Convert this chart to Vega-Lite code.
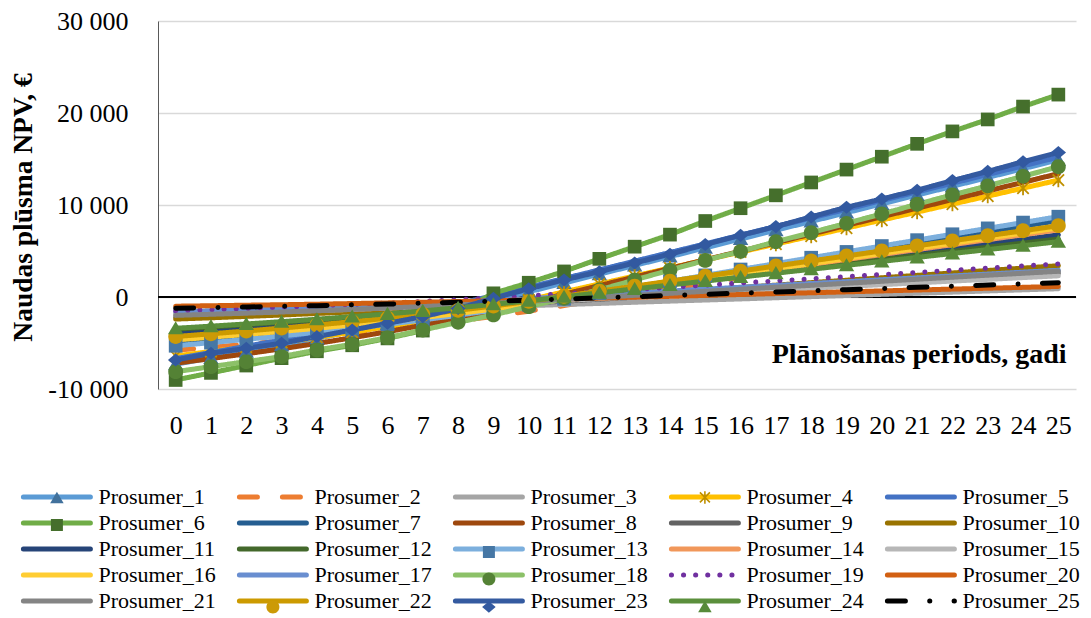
{
  "$schema": "https://vega.github.io/schema/vega-lite/v6.json",
  "width": 918,
  "height": 368,
  "autosize": {"type": "none"},
  "padding": {"left": 158, "top": 21, "right": 15, "bottom": 229},
  "background": "#ffffff",
  "config": {
    "view": {"stroke": null},
    "font": "Liberation Serif",
    "locale": {
      "number": {"decimal": ",", "thousands": " ", "grouping": [3], "currency": ["", " €"], "minus": "-"}
    },
    "axis": {
      "labelFont": "Liberation Serif",
      "labelFontSize": 26,
      "labelColor": "#000000",
      "titleFont": "Liberation Serif",
      "titleFontSize": 28,
      "titleFontWeight": "bold",
      "titleColor": "#000000",
      "ticks": false,
      "tickSize": 0,
      "labelOverlap": false
    },
    "axisX": {"labelOverlap": false, "labelFlush": false},
    "legend": {
      "orient": "none",
      "legendX": -137.6,
      "legendY": 465,
      "direction": "horizontal",
      "columns": 5,
      "padding": 0,
      "columnPadding": 13,
      "rowPadding": 4,
      "gridAlign": "each",
      "labelFont": "Liberation Serif",
      "labelFontSize": 22,
      "labelColor": "#000000",
      "labelLimit": 300,
      "labelOffset": 30.5,
      "symbolSize": 100,
      "symbolStrokeWidth": 5,
      "symbolOffset": 25.5
    }
  },
  "data": {
    "values": [
      {"series":"Prosumer_1","year":0,"npv":-7300},{"series":"Prosumer_1","year":1,"npv":-6630},{"series":"Prosumer_1","year":2,"npv":-5940},{"series":"Prosumer_1","year":3,"npv":-5240},{"series":"Prosumer_1","year":4,"npv":-4500},{"series":"Prosumer_1","year":5,"npv":-3740},{"series":"Prosumer_1","year":6,"npv":-2940},{"series":"Prosumer_1","year":7,"npv":-2120},{"series":"Prosumer_1","year":8,"npv":-1260},{"series":"Prosumer_1","year":9,"npv":-360},{"series":"Prosumer_1","year":10,"npv":570},{"series":"Prosumer_1","year":11,"npv":1520},{"series":"Prosumer_1","year":12,"npv":2480},{"series":"Prosumer_1","year":13,"npv":3430},{"series":"Prosumer_1","year":14,"npv":4390},{"series":"Prosumer_1","year":15,"npv":5340},{"series":"Prosumer_1","year":16,"npv":6300},{"series":"Prosumer_1","year":17,"npv":7260},{"series":"Prosumer_1","year":18,"npv":8210},{"series":"Prosumer_1","year":19,"npv":9170},{"series":"Prosumer_1","year":20,"npv":10120},{"series":"Prosumer_1","year":21,"npv":11080},{"series":"Prosumer_1","year":22,"npv":12030},{"series":"Prosumer_1","year":23,"npv":12990},{"series":"Prosumer_1","year":24,"npv":13950},{"series":"Prosumer_1","year":25,"npv":14900},
      {"series":"Prosumer_2","year":0,"npv":-5800},{"series":"Prosumer_2","year":1,"npv":-5470},{"series":"Prosumer_2","year":2,"npv":-5130},{"series":"Prosumer_2","year":3,"npv":-4780},{"series":"Prosumer_2","year":4,"npv":-4400},{"series":"Prosumer_2","year":5,"npv":-4000},{"series":"Prosumer_2","year":6,"npv":-3570},{"series":"Prosumer_2","year":7,"npv":-3110},{"series":"Prosumer_2","year":8,"npv":-2630},{"series":"Prosumer_2","year":9,"npv":-2100},{"series":"Prosumer_2","year":10,"npv":-1540},{"series":"Prosumer_2","year":11,"npv":-930},{"series":"Prosumer_2","year":12,"npv":-320},{"series":"Prosumer_2","year":13,"npv":290},{"series":"Prosumer_2","year":14,"npv":900},{"series":"Prosumer_2","year":15,"npv":1510},{"series":"Prosumer_2","year":16,"npv":2120},{"series":"Prosumer_2","year":17,"npv":2730},{"series":"Prosumer_2","year":18,"npv":3340},{"series":"Prosumer_2","year":19,"npv":3950},{"series":"Prosumer_2","year":20,"npv":4560},{"series":"Prosumer_2","year":21,"npv":5170},{"series":"Prosumer_2","year":22,"npv":5770},{"series":"Prosumer_2","year":23,"npv":6380},{"series":"Prosumer_2","year":24,"npv":6990},{"series":"Prosumer_2","year":25,"npv":7600},
      {"series":"Prosumer_3","year":0,"npv":-1800},{"series":"Prosumer_3","year":1,"npv":-1730},{"series":"Prosumer_3","year":2,"npv":-1670},{"series":"Prosumer_3","year":3,"npv":-1590},{"series":"Prosumer_3","year":4,"npv":-1520},{"series":"Prosumer_3","year":5,"npv":-1440},{"series":"Prosumer_3","year":6,"npv":-1350},{"series":"Prosumer_3","year":7,"npv":-1260},{"series":"Prosumer_3","year":8,"npv":-1160},{"series":"Prosumer_3","year":9,"npv":-1060},{"series":"Prosumer_3","year":10,"npv":-940},{"series":"Prosumer_3","year":11,"npv":-820},{"series":"Prosumer_3","year":12,"npv":-700},{"series":"Prosumer_3","year":13,"npv":-570},{"series":"Prosumer_3","year":14,"npv":-450},{"series":"Prosumer_3","year":15,"npv":-330},{"series":"Prosumer_3","year":16,"npv":-210},{"series":"Prosumer_3","year":17,"npv":-80},{"series":"Prosumer_3","year":18,"npv":40},{"series":"Prosumer_3","year":19,"npv":160},{"series":"Prosumer_3","year":20,"npv":290},{"series":"Prosumer_3","year":21,"npv":410},{"series":"Prosumer_3","year":22,"npv":530},{"series":"Prosumer_3","year":23,"npv":660},{"series":"Prosumer_3","year":24,"npv":780},{"series":"Prosumer_3","year":25,"npv":900},
      {"series":"Prosumer_4","year":0,"npv":-6400},{"series":"Prosumer_4","year":1,"npv":-5930},{"series":"Prosumer_4","year":2,"npv":-5440},{"series":"Prosumer_4","year":3,"npv":-4940},{"series":"Prosumer_4","year":4,"npv":-4400},{"series":"Prosumer_4","year":5,"npv":-3830},{"series":"Prosumer_4","year":6,"npv":-3220},{"series":"Prosumer_4","year":7,"npv":-2570},{"series":"Prosumer_4","year":8,"npv":-1880},{"series":"Prosumer_4","year":9,"npv":-1130},{"series":"Prosumer_4","year":10,"npv":-320},{"series":"Prosumer_4","year":11,"npv":550},{"series":"Prosumer_4","year":12,"npv":1410},{"series":"Prosumer_4","year":13,"npv":2280},{"series":"Prosumer_4","year":14,"npv":3150},{"series":"Prosumer_4","year":15,"npv":4020},{"series":"Prosumer_4","year":16,"npv":4890},{"series":"Prosumer_4","year":17,"npv":5750},{"series":"Prosumer_4","year":18,"npv":6620},{"series":"Prosumer_4","year":19,"npv":7490},{"series":"Prosumer_4","year":20,"npv":8360},{"series":"Prosumer_4","year":21,"npv":9230},{"series":"Prosumer_4","year":22,"npv":10100},{"series":"Prosumer_4","year":23,"npv":10960},{"series":"Prosumer_4","year":24,"npv":11830},{"series":"Prosumer_4","year":25,"npv":12700},
      {"series":"Prosumer_5","year":0,"npv":-6700},{"series":"Prosumer_5","year":1,"npv":-6040},{"series":"Prosumer_5","year":2,"npv":-5360},{"series":"Prosumer_5","year":3,"npv":-4660},{"series":"Prosumer_5","year":4,"npv":-3940},{"series":"Prosumer_5","year":5,"npv":-3180},{"series":"Prosumer_5","year":6,"npv":-2400},{"series":"Prosumer_5","year":7,"npv":-1590},{"series":"Prosumer_5","year":8,"npv":-740},{"series":"Prosumer_5","year":9,"npv":140},{"series":"Prosumer_5","year":10,"npv":1060},{"series":"Prosumer_5","year":11,"npv":2000},{"series":"Prosumer_5","year":12,"npv":2940},{"series":"Prosumer_5","year":13,"npv":3890},{"series":"Prosumer_5","year":14,"npv":4830},{"series":"Prosumer_5","year":15,"npv":5770},{"series":"Prosumer_5","year":16,"npv":6720},{"series":"Prosumer_5","year":17,"npv":7660},{"series":"Prosumer_5","year":18,"npv":8600},{"series":"Prosumer_5","year":19,"npv":9540},{"series":"Prosumer_5","year":20,"npv":10490},{"series":"Prosumer_5","year":21,"npv":11430},{"series":"Prosumer_5","year":22,"npv":12370},{"series":"Prosumer_5","year":23,"npv":13320},{"series":"Prosumer_5","year":24,"npv":14260},{"series":"Prosumer_5","year":25,"npv":15200},
      {"series":"Prosumer_6","year":0,"npv":-9020},{"series":"Prosumer_6","year":1,"npv":-8250},{"series":"Prosumer_6","year":2,"npv":-7450},{"series":"Prosumer_6","year":3,"npv":-6650},{"series":"Prosumer_6","year":4,"npv":-5900},{"series":"Prosumer_6","year":5,"npv":-5250},{"series":"Prosumer_6","year":6,"npv":-4500},{"series":"Prosumer_6","year":7,"npv":-3650},{"series":"Prosumer_6","year":8,"npv":-1650},{"series":"Prosumer_6","year":9,"npv":400},{"series":"Prosumer_6","year":10,"npv":1550},{"series":"Prosumer_6","year":11,"npv":2780},{"series":"Prosumer_6","year":12,"npv":4150},{"series":"Prosumer_6","year":13,"npv":5470},{"series":"Prosumer_6","year":14,"npv":6780},{"series":"Prosumer_6","year":15,"npv":8260},{"series":"Prosumer_6","year":16,"npv":9650},{"series":"Prosumer_6","year":17,"npv":11050},{"series":"Prosumer_6","year":18,"npv":12450},{"series":"Prosumer_6","year":19,"npv":13850},{"series":"Prosumer_6","year":20,"npv":15250},{"series":"Prosumer_6","year":21,"npv":16650},{"series":"Prosumer_6","year":22,"npv":18000},{"series":"Prosumer_6","year":23,"npv":19300},{"series":"Prosumer_6","year":24,"npv":20700},{"series":"Prosumer_6","year":25,"npv":22000},
      {"series":"Prosumer_7","year":0,"npv":-5000},{"series":"Prosumer_7","year":1,"npv":-4670},{"series":"Prosumer_7","year":2,"npv":-4340},{"series":"Prosumer_7","year":3,"npv":-3980},{"series":"Prosumer_7","year":4,"npv":-3610},{"series":"Prosumer_7","year":5,"npv":-3210},{"series":"Prosumer_7","year":6,"npv":-2790},{"series":"Prosumer_7","year":7,"npv":-2330},{"series":"Prosumer_7","year":8,"npv":-1850},{"series":"Prosumer_7","year":9,"npv":-1330},{"series":"Prosumer_7","year":10,"npv":-770},{"series":"Prosumer_7","year":11,"npv":-160},{"series":"Prosumer_7","year":12,"npv":440},{"series":"Prosumer_7","year":13,"npv":1050},{"series":"Prosumer_7","year":14,"npv":1650},{"series":"Prosumer_7","year":15,"npv":2260},{"series":"Prosumer_7","year":16,"npv":2860},{"series":"Prosumer_7","year":17,"npv":3470},{"series":"Prosumer_7","year":18,"npv":4070},{"series":"Prosumer_7","year":19,"npv":4670},{"series":"Prosumer_7","year":20,"npv":5280},{"series":"Prosumer_7","year":21,"npv":5880},{"series":"Prosumer_7","year":22,"npv":6490},{"series":"Prosumer_7","year":23,"npv":7090},{"series":"Prosumer_7","year":24,"npv":7700},{"series":"Prosumer_7","year":25,"npv":8300},
      {"series":"Prosumer_8","year":0,"npv":-7200},{"series":"Prosumer_8","year":1,"npv":-6690},{"series":"Prosumer_8","year":2,"npv":-6170},{"series":"Prosumer_8","year":3,"npv":-5630},{"series":"Prosumer_8","year":4,"npv":-5050},{"series":"Prosumer_8","year":5,"npv":-4430},{"series":"Prosumer_8","year":6,"npv":-3770},{"series":"Prosumer_8","year":7,"npv":-3070},{"series":"Prosumer_8","year":8,"npv":-2320},{"series":"Prosumer_8","year":9,"npv":-1520},{"series":"Prosumer_8","year":10,"npv":-640},{"series":"Prosumer_8","year":11,"npv":290},{"series":"Prosumer_8","year":12,"npv":1230},{"series":"Prosumer_8","year":13,"npv":2160},{"series":"Prosumer_8","year":14,"npv":3100},{"series":"Prosumer_8","year":15,"npv":4040},{"series":"Prosumer_8","year":16,"npv":4970},{"series":"Prosumer_8","year":17,"npv":5910},{"series":"Prosumer_8","year":18,"npv":6840},{"series":"Prosumer_8","year":19,"npv":7780},{"series":"Prosumer_8","year":20,"npv":8720},{"series":"Prosumer_8","year":21,"npv":9650},{"series":"Prosumer_8","year":22,"npv":10590},{"series":"Prosumer_8","year":23,"npv":11530},{"series":"Prosumer_8","year":24,"npv":12460},{"series":"Prosumer_8","year":25,"npv":13400},
      {"series":"Prosumer_9","year":0,"npv":-2200},{"series":"Prosumer_9","year":1,"npv":-2080},{"series":"Prosumer_9","year":2,"npv":-1960},{"series":"Prosumer_9","year":3,"npv":-1830},{"series":"Prosumer_9","year":4,"npv":-1700},{"series":"Prosumer_9","year":5,"npv":-1550},{"series":"Prosumer_9","year":6,"npv":-1400},{"series":"Prosumer_9","year":7,"npv":-1240},{"series":"Prosumer_9","year":8,"npv":-1060},{"series":"Prosumer_9","year":9,"npv":-880},{"series":"Prosumer_9","year":10,"npv":-670},{"series":"Prosumer_9","year":11,"npv":-450},{"series":"Prosumer_9","year":12,"npv":-240},{"series":"Prosumer_9","year":13,"npv":-20},{"series":"Prosumer_9","year":14,"npv":200},{"series":"Prosumer_9","year":15,"npv":420},{"series":"Prosumer_9","year":16,"npv":640},{"series":"Prosumer_9","year":17,"npv":860},{"series":"Prosumer_9","year":18,"npv":1070},{"series":"Prosumer_9","year":19,"npv":1290},{"series":"Prosumer_9","year":20,"npv":1510},{"series":"Prosumer_9","year":21,"npv":1730},{"series":"Prosumer_9","year":22,"npv":1950},{"series":"Prosumer_9","year":23,"npv":2170},{"series":"Prosumer_9","year":24,"npv":2380},{"series":"Prosumer_9","year":25,"npv":2600},
      {"series":"Prosumer_10","year":0,"npv":-2400},{"series":"Prosumer_10","year":1,"npv":-2260},{"series":"Prosumer_10","year":2,"npv":-2110},{"series":"Prosumer_10","year":3,"npv":-1960},{"series":"Prosumer_10","year":4,"npv":-1790},{"series":"Prosumer_10","year":5,"npv":-1620},{"series":"Prosumer_10","year":6,"npv":-1440},{"series":"Prosumer_10","year":7,"npv":-1240},{"series":"Prosumer_10","year":8,"npv":-1030},{"series":"Prosumer_10","year":9,"npv":-800},{"series":"Prosumer_10","year":10,"npv":-560},{"series":"Prosumer_10","year":11,"npv":-290},{"series":"Prosumer_10","year":12,"npv":-30},{"series":"Prosumer_10","year":13,"npv":240},{"series":"Prosumer_10","year":14,"npv":500},{"series":"Prosumer_10","year":15,"npv":770},{"series":"Prosumer_10","year":16,"npv":1030},{"series":"Prosumer_10","year":17,"npv":1290},{"series":"Prosumer_10","year":18,"npv":1560},{"series":"Prosumer_10","year":19,"npv":1820},{"series":"Prosumer_10","year":20,"npv":2090},{"series":"Prosumer_10","year":21,"npv":2350},{"series":"Prosumer_10","year":22,"npv":2610},{"series":"Prosumer_10","year":23,"npv":2880},{"series":"Prosumer_10","year":24,"npv":3140},{"series":"Prosumer_10","year":25,"npv":3400},
      {"series":"Prosumer_11","year":0,"npv":-3950},{"series":"Prosumer_11","year":1,"npv":-3690},{"series":"Prosumer_11","year":2,"npv":-3420},{"series":"Prosumer_11","year":3,"npv":-3130},{"series":"Prosumer_11","year":4,"npv":-2830},{"series":"Prosumer_11","year":5,"npv":-2510},{"series":"Prosumer_11","year":6,"npv":-2170},{"series":"Prosumer_11","year":7,"npv":-1810},{"series":"Prosumer_11","year":8,"npv":-1420},{"series":"Prosumer_11","year":9,"npv":-1000},{"series":"Prosumer_11","year":10,"npv":-550},{"series":"Prosumer_11","year":11,"npv":-60},{"series":"Prosumer_11","year":12,"npv":430},{"series":"Prosumer_11","year":13,"npv":910},{"series":"Prosumer_11","year":14,"npv":1400},{"series":"Prosumer_11","year":15,"npv":1880},{"series":"Prosumer_11","year":16,"npv":2370},{"series":"Prosumer_11","year":17,"npv":2860},{"series":"Prosumer_11","year":18,"npv":3340},{"series":"Prosumer_11","year":19,"npv":3830},{"series":"Prosumer_11","year":20,"npv":4320},{"series":"Prosumer_11","year":21,"npv":4800},{"series":"Prosumer_11","year":22,"npv":5290},{"series":"Prosumer_11","year":23,"npv":5780},{"series":"Prosumer_11","year":24,"npv":6260},{"series":"Prosumer_11","year":25,"npv":6750},
      {"series":"Prosumer_12","year":0,"npv":-3500},{"series":"Prosumer_12","year":1,"npv":-3260},{"series":"Prosumer_12","year":2,"npv":-3010},{"series":"Prosumer_12","year":3,"npv":-2750},{"series":"Prosumer_12","year":4,"npv":-2480},{"series":"Prosumer_12","year":5,"npv":-2180},{"series":"Prosumer_12","year":6,"npv":-1870},{"series":"Prosumer_12","year":7,"npv":-1540},{"series":"Prosumer_12","year":8,"npv":-1180},{"series":"Prosumer_12","year":9,"npv":-800},{"series":"Prosumer_12","year":10,"npv":-380},{"series":"Prosumer_12","year":11,"npv":60},{"series":"Prosumer_12","year":12,"npv":510},{"series":"Prosumer_12","year":13,"npv":950},{"series":"Prosumer_12","year":14,"npv":1400},{"series":"Prosumer_12","year":15,"npv":1840},{"series":"Prosumer_12","year":16,"npv":2290},{"series":"Prosumer_12","year":17,"npv":2740},{"series":"Prosumer_12","year":18,"npv":3180},{"series":"Prosumer_12","year":19,"npv":3630},{"series":"Prosumer_12","year":20,"npv":4070},{"series":"Prosumer_12","year":21,"npv":4520},{"series":"Prosumer_12","year":22,"npv":4960},{"series":"Prosumer_12","year":23,"npv":5410},{"series":"Prosumer_12","year":24,"npv":5860},{"series":"Prosumer_12","year":25,"npv":6300},
      {"series":"Prosumer_13","year":0,"npv":-5300},{"series":"Prosumer_13","year":1,"npv":-4960},{"series":"Prosumer_13","year":2,"npv":-4600},{"series":"Prosumer_13","year":3,"npv":-4230},{"series":"Prosumer_13","year":4,"npv":-3830},{"series":"Prosumer_13","year":5,"npv":-3410},{"series":"Prosumer_13","year":6,"npv":-2970},{"series":"Prosumer_13","year":7,"npv":-2490},{"series":"Prosumer_13","year":8,"npv":-1980},{"series":"Prosumer_13","year":9,"npv":-1430},{"series":"Prosumer_13","year":10,"npv":-840},{"series":"Prosumer_13","year":11,"npv":-200},{"series":"Prosumer_13","year":12,"npv":440},{"series":"Prosumer_13","year":13,"npv":1080},{"series":"Prosumer_13","year":14,"npv":1710},{"series":"Prosumer_13","year":15,"npv":2350},{"series":"Prosumer_13","year":16,"npv":2990},{"series":"Prosumer_13","year":17,"npv":3630},{"series":"Prosumer_13","year":18,"npv":4270},{"series":"Prosumer_13","year":19,"npv":4900},{"series":"Prosumer_13","year":20,"npv":5540},{"series":"Prosumer_13","year":21,"npv":6180},{"series":"Prosumer_13","year":22,"npv":6820},{"series":"Prosumer_13","year":23,"npv":7460},{"series":"Prosumer_13","year":24,"npv":8090},{"series":"Prosumer_13","year":25,"npv":8730},
      {"series":"Prosumer_14","year":0,"npv":-4500},{"series":"Prosumer_14","year":1,"npv":-4210},{"series":"Prosumer_14","year":2,"npv":-3910},{"series":"Prosumer_14","year":3,"npv":-3600},{"series":"Prosumer_14","year":4,"npv":-3270},{"series":"Prosumer_14","year":5,"npv":-2910},{"series":"Prosumer_14","year":6,"npv":-2540},{"series":"Prosumer_14","year":7,"npv":-2130},{"series":"Prosumer_14","year":8,"npv":-1710},{"series":"Prosumer_14","year":9,"npv":-1240},{"series":"Prosumer_14","year":10,"npv":-750},{"series":"Prosumer_14","year":11,"npv":-210},{"series":"Prosumer_14","year":12,"npv":330},{"series":"Prosumer_14","year":13,"npv":860},{"series":"Prosumer_14","year":14,"npv":1400},{"series":"Prosumer_14","year":15,"npv":1940},{"series":"Prosumer_14","year":16,"npv":2470},{"series":"Prosumer_14","year":17,"npv":3010},{"series":"Prosumer_14","year":18,"npv":3540},{"series":"Prosumer_14","year":19,"npv":4080},{"series":"Prosumer_14","year":20,"npv":4620},{"series":"Prosumer_14","year":21,"npv":5150},{"series":"Prosumer_14","year":22,"npv":5690},{"series":"Prosumer_14","year":23,"npv":6230},{"series":"Prosumer_14","year":24,"npv":6760},{"series":"Prosumer_14","year":25,"npv":7300},
      {"series":"Prosumer_15","year":0,"npv":-1900},{"series":"Prosumer_15","year":1,"npv":-1800},{"series":"Prosumer_15","year":2,"npv":-1690},{"series":"Prosumer_15","year":3,"npv":-1580},{"series":"Prosumer_15","year":4,"npv":-1460},{"series":"Prosumer_15","year":5,"npv":-1340},{"series":"Prosumer_15","year":6,"npv":-1200},{"series":"Prosumer_15","year":7,"npv":-1060},{"series":"Prosumer_15","year":8,"npv":-900},{"series":"Prosumer_15","year":9,"npv":-740},{"series":"Prosumer_15","year":10,"npv":-560},{"series":"Prosumer_15","year":11,"npv":-370},{"series":"Prosumer_15","year":12,"npv":-180},{"series":"Prosumer_15","year":13,"npv":10},{"series":"Prosumer_15","year":14,"npv":200},{"series":"Prosumer_15","year":15,"npv":390},{"series":"Prosumer_15","year":16,"npv":580},{"series":"Prosumer_15","year":17,"npv":770},{"series":"Prosumer_15","year":18,"npv":960},{"series":"Prosumer_15","year":19,"npv":1150},{"series":"Prosumer_15","year":20,"npv":1340},{"series":"Prosumer_15","year":21,"npv":1540},{"series":"Prosumer_15","year":22,"npv":1730},{"series":"Prosumer_15","year":23,"npv":1920},{"series":"Prosumer_15","year":24,"npv":2110},{"series":"Prosumer_15","year":25,"npv":2300},
      {"series":"Prosumer_16","year":0,"npv":-4670},{"series":"Prosumer_16","year":1,"npv":-4370},{"series":"Prosumer_16","year":2,"npv":-4060},{"series":"Prosumer_16","year":3,"npv":-3740},{"series":"Prosumer_16","year":4,"npv":-3400},{"series":"Prosumer_16","year":5,"npv":-3030},{"series":"Prosumer_16","year":6,"npv":-2650},{"series":"Prosumer_16","year":7,"npv":-2230},{"series":"Prosumer_16","year":8,"npv":-1790},{"series":"Prosumer_16","year":9,"npv":-1310},{"series":"Prosumer_16","year":10,"npv":-800},{"series":"Prosumer_16","year":11,"npv":-240},{"series":"Prosumer_16","year":12,"npv":310},{"series":"Prosumer_16","year":13,"npv":870},{"series":"Prosumer_16","year":14,"npv":1420},{"series":"Prosumer_16","year":15,"npv":1970},{"series":"Prosumer_16","year":16,"npv":2520},{"series":"Prosumer_16","year":17,"npv":3080},{"series":"Prosumer_16","year":18,"npv":3630},{"series":"Prosumer_16","year":19,"npv":4180},{"series":"Prosumer_16","year":20,"npv":4740},{"series":"Prosumer_16","year":21,"npv":5290},{"series":"Prosumer_16","year":22,"npv":5840},{"series":"Prosumer_16","year":23,"npv":6400},{"series":"Prosumer_16","year":24,"npv":6950},{"series":"Prosumer_16","year":25,"npv":7500},
      {"series":"Prosumer_17","year":0,"npv":-1600},{"series":"Prosumer_17","year":1,"npv":-1490},{"series":"Prosumer_17","year":2,"npv":-1380},{"series":"Prosumer_17","year":3,"npv":-1260},{"series":"Prosumer_17","year":4,"npv":-1130},{"series":"Prosumer_17","year":5,"npv":-1000},{"series":"Prosumer_17","year":6,"npv":-850},{"series":"Prosumer_17","year":7,"npv":-700},{"series":"Prosumer_17","year":8,"npv":-530},{"series":"Prosumer_17","year":9,"npv":-360},{"series":"Prosumer_17","year":10,"npv":-170},{"series":"Prosumer_17","year":11,"npv":40},{"series":"Prosumer_17","year":12,"npv":240},{"series":"Prosumer_17","year":13,"npv":440},{"series":"Prosumer_17","year":14,"npv":650},{"series":"Prosumer_17","year":15,"npv":850},{"series":"Prosumer_17","year":16,"npv":1060},{"series":"Prosumer_17","year":17,"npv":1260},{"series":"Prosumer_17","year":18,"npv":1470},{"series":"Prosumer_17","year":19,"npv":1670},{"series":"Prosumer_17","year":20,"npv":1880},{"series":"Prosumer_17","year":21,"npv":2080},{"series":"Prosumer_17","year":22,"npv":2290},{"series":"Prosumer_17","year":23,"npv":2490},{"series":"Prosumer_17","year":24,"npv":2700},{"series":"Prosumer_17","year":25,"npv":2900},
      {"series":"Prosumer_18","year":0,"npv":-8120},{"series":"Prosumer_18","year":1,"npv":-7570},{"series":"Prosumer_18","year":2,"npv":-7030},{"series":"Prosumer_18","year":3,"npv":-6480},{"series":"Prosumer_18","year":4,"npv":-5760},{"series":"Prosumer_18","year":5,"npv":-5140},{"series":"Prosumer_18","year":6,"npv":-4420},{"series":"Prosumer_18","year":7,"npv":-3590},{"series":"Prosumer_18","year":8,"npv":-2750},{"series":"Prosumer_18","year":9,"npv":-1950},{"series":"Prosumer_18","year":10,"npv":-1050},{"series":"Prosumer_18","year":11,"npv":-140},{"series":"Prosumer_18","year":12,"npv":780},{"series":"Prosumer_18","year":13,"npv":1850},{"series":"Prosumer_18","year":14,"npv":2930},{"series":"Prosumer_18","year":15,"npv":3980},{"series":"Prosumer_18","year":16,"npv":4950},{"series":"Prosumer_18","year":17,"npv":6010},{"series":"Prosumer_18","year":18,"npv":6990},{"series":"Prosumer_18","year":19,"npv":8010},{"series":"Prosumer_18","year":20,"npv":9020},{"series":"Prosumer_18","year":21,"npv":10080},{"series":"Prosumer_18","year":22,"npv":11090},{"series":"Prosumer_18","year":23,"npv":12080},{"series":"Prosumer_18","year":24,"npv":13120},{"series":"Prosumer_18","year":25,"npv":14160},
      {"series":"Prosumer_19","year":0,"npv":-1500},{"series":"Prosumer_19","year":1,"npv":-1370},{"series":"Prosumer_19","year":2,"npv":-1250},{"series":"Prosumer_19","year":3,"npv":-1110},{"series":"Prosumer_19","year":4,"npv":-970},{"series":"Prosumer_19","year":5,"npv":-810},{"series":"Prosumer_19","year":6,"npv":-650},{"series":"Prosumer_19","year":7,"npv":-480},{"series":"Prosumer_19","year":8,"npv":-290},{"series":"Prosumer_19","year":9,"npv":-90},{"series":"Prosumer_19","year":10,"npv":120},{"series":"Prosumer_19","year":11,"npv":350},{"series":"Prosumer_19","year":12,"npv":590},{"series":"Prosumer_19","year":13,"npv":820},{"series":"Prosumer_19","year":14,"npv":1050},{"series":"Prosumer_19","year":15,"npv":1280},{"series":"Prosumer_19","year":16,"npv":1520},{"series":"Prosumer_19","year":17,"npv":1750},{"series":"Prosumer_19","year":18,"npv":1980},{"series":"Prosumer_19","year":19,"npv":2210},{"series":"Prosumer_19","year":20,"npv":2440},{"series":"Prosumer_19","year":21,"npv":2670},{"series":"Prosumer_19","year":22,"npv":2910},{"series":"Prosumer_19","year":23,"npv":3140},{"series":"Prosumer_19","year":24,"npv":3370},{"series":"Prosumer_19","year":25,"npv":3600},
      {"series":"Prosumer_20","year":0,"npv":-1000},{"series":"Prosumer_20","year":1,"npv":-950},{"series":"Prosumer_20","year":2,"npv":-890},{"series":"Prosumer_20","year":3,"npv":-840},{"series":"Prosumer_20","year":4,"npv":-780},{"series":"Prosumer_20","year":5,"npv":-710},{"series":"Prosumer_20","year":6,"npv":-640},{"series":"Prosumer_20","year":7,"npv":-570},{"series":"Prosumer_20","year":8,"npv":-490},{"series":"Prosumer_20","year":9,"npv":-410},{"series":"Prosumer_20","year":10,"npv":-320},{"series":"Prosumer_20","year":11,"npv":-220},{"series":"Prosumer_20","year":12,"npv":-120},{"series":"Prosumer_20","year":13,"npv":-20},{"series":"Prosumer_20","year":14,"npv":70},{"series":"Prosumer_20","year":15,"npv":170},{"series":"Prosumer_20","year":16,"npv":270},{"series":"Prosumer_20","year":17,"npv":370},{"series":"Prosumer_20","year":18,"npv":460},{"series":"Prosumer_20","year":19,"npv":560},{"series":"Prosumer_20","year":20,"npv":660},{"series":"Prosumer_20","year":21,"npv":760},{"series":"Prosumer_20","year":22,"npv":860},{"series":"Prosumer_20","year":23,"npv":950},{"series":"Prosumer_20","year":24,"npv":1050},{"series":"Prosumer_20","year":25,"npv":1150},
      {"series":"Prosumer_21","year":0,"npv":-2000},{"series":"Prosumer_21","year":1,"npv":-1880},{"series":"Prosumer_21","year":2,"npv":-1760},{"series":"Prosumer_21","year":3,"npv":-1630},{"series":"Prosumer_21","year":4,"npv":-1500},{"series":"Prosumer_21","year":5,"npv":-1350},{"series":"Prosumer_21","year":6,"npv":-1200},{"series":"Prosumer_21","year":7,"npv":-1040},{"series":"Prosumer_21","year":8,"npv":-860},{"series":"Prosumer_21","year":9,"npv":-680},{"series":"Prosumer_21","year":10,"npv":-470},{"series":"Prosumer_21","year":11,"npv":-250},{"series":"Prosumer_21","year":12,"npv":-40},{"series":"Prosumer_21","year":13,"npv":180},{"series":"Prosumer_21","year":14,"npv":400},{"series":"Prosumer_21","year":15,"npv":620},{"series":"Prosumer_21","year":16,"npv":840},{"series":"Prosumer_21","year":17,"npv":1060},{"series":"Prosumer_21","year":18,"npv":1270},{"series":"Prosumer_21","year":19,"npv":1490},{"series":"Prosumer_21","year":20,"npv":1710},{"series":"Prosumer_21","year":21,"npv":1930},{"series":"Prosumer_21","year":22,"npv":2150},{"series":"Prosumer_21","year":23,"npv":2370},{"series":"Prosumer_21","year":24,"npv":2580},{"series":"Prosumer_21","year":25,"npv":2800},
      {"series":"Prosumer_22","year":0,"npv":-4300},{"series":"Prosumer_22","year":1,"npv":-4000},{"series":"Prosumer_22","year":2,"npv":-3700},{"series":"Prosumer_22","year":3,"npv":-3380},{"series":"Prosumer_22","year":4,"npv":-3040},{"series":"Prosumer_22","year":5,"npv":-2680},{"series":"Prosumer_22","year":6,"npv":-2300},{"series":"Prosumer_22","year":7,"npv":-1890},{"series":"Prosumer_22","year":8,"npv":-1450},{"series":"Prosumer_22","year":9,"npv":-980},{"series":"Prosumer_22","year":10,"npv":-470},{"series":"Prosumer_22","year":11,"npv":80},{"series":"Prosumer_22","year":12,"npv":630},{"series":"Prosumer_22","year":13,"npv":1180},{"series":"Prosumer_22","year":14,"npv":1730},{"series":"Prosumer_22","year":15,"npv":2270},{"series":"Prosumer_22","year":16,"npv":2820},{"series":"Prosumer_22","year":17,"npv":3370},{"series":"Prosumer_22","year":18,"npv":3920},{"series":"Prosumer_22","year":19,"npv":4460},{"series":"Prosumer_22","year":20,"npv":5010},{"series":"Prosumer_22","year":21,"npv":5560},{"series":"Prosumer_22","year":22,"npv":6110},{"series":"Prosumer_22","year":23,"npv":6660},{"series":"Prosumer_22","year":24,"npv":7200},{"series":"Prosumer_22","year":25,"npv":7750},
      {"series":"Prosumer_23","year":0,"npv":-6850},{"series":"Prosumer_23","year":1,"npv":-6120},{"series":"Prosumer_23","year":2,"npv":-5580},{"series":"Prosumer_23","year":3,"npv":-5030},{"series":"Prosumer_23","year":4,"npv":-4310},{"series":"Prosumer_23","year":5,"npv":-3590},{"series":"Prosumer_23","year":6,"npv":-2860},{"series":"Prosumer_23","year":7,"npv":-2140},{"series":"Prosumer_23","year":8,"npv":-1250},{"series":"Prosumer_23","year":9,"npv":-150},{"series":"Prosumer_23","year":10,"npv":900},{"series":"Prosumer_23","year":11,"npv":1850},{"series":"Prosumer_23","year":12,"npv":2750},{"series":"Prosumer_23","year":13,"npv":3700},{"series":"Prosumer_23","year":14,"npv":4650},{"series":"Prosumer_23","year":15,"npv":5700},{"series":"Prosumer_23","year":16,"npv":6700},{"series":"Prosumer_23","year":17,"npv":7650},{"series":"Prosumer_23","year":18,"npv":8700},{"series":"Prosumer_23","year":19,"npv":9750},{"series":"Prosumer_23","year":20,"npv":10650},{"series":"Prosumer_23","year":21,"npv":11600},{"series":"Prosumer_23","year":22,"npv":12650},{"series":"Prosumer_23","year":23,"npv":13650},{"series":"Prosumer_23","year":24,"npv":14700},{"series":"Prosumer_23","year":25,"npv":15700},
      {"series":"Prosumer_24","year":0,"npv":-3400},{"series":"Prosumer_24","year":1,"npv":-3170},{"series":"Prosumer_24","year":2,"npv":-2930},{"series":"Prosumer_24","year":3,"npv":-2680},{"series":"Prosumer_24","year":4,"npv":-2420},{"series":"Prosumer_24","year":5,"npv":-2130},{"series":"Prosumer_24","year":6,"npv":-1840},{"series":"Prosumer_24","year":7,"npv":-1510},{"series":"Prosumer_24","year":8,"npv":-1170},{"series":"Prosumer_24","year":9,"npv":-800},{"series":"Prosumer_24","year":10,"npv":-410},{"series":"Prosumer_24","year":11,"npv":20},{"series":"Prosumer_24","year":12,"npv":450},{"series":"Prosumer_24","year":13,"npv":880},{"series":"Prosumer_24","year":14,"npv":1300},{"series":"Prosumer_24","year":15,"npv":1730},{"series":"Prosumer_24","year":16,"npv":2160},{"series":"Prosumer_24","year":17,"npv":2590},{"series":"Prosumer_24","year":18,"npv":3010},{"series":"Prosumer_24","year":19,"npv":3440},{"series":"Prosumer_24","year":20,"npv":3870},{"series":"Prosumer_24","year":21,"npv":4300},{"series":"Prosumer_24","year":22,"npv":4730},{"series":"Prosumer_24","year":23,"npv":5150},{"series":"Prosumer_24","year":24,"npv":5580},{"series":"Prosumer_24","year":25,"npv":6010},
      {"series":"Prosumer_25","year":0,"npv":-1230},{"series":"Prosumer_25","year":1,"npv":-1160},{"series":"Prosumer_25","year":2,"npv":-1090},{"series":"Prosumer_25","year":3,"npv":-1020},{"series":"Prosumer_25","year":4,"npv":-940},{"series":"Prosumer_25","year":5,"npv":-850},{"series":"Prosumer_25","year":6,"npv":-770},{"series":"Prosumer_25","year":7,"npv":-670},{"series":"Prosumer_25","year":8,"npv":-570},{"series":"Prosumer_25","year":9,"npv":-460},{"series":"Prosumer_25","year":10,"npv":-340},{"series":"Prosumer_25","year":11,"npv":-220},{"series":"Prosumer_25","year":12,"npv":-90},{"series":"Prosumer_25","year":13,"npv":40},{"series":"Prosumer_25","year":14,"npv":160},{"series":"Prosumer_25","year":15,"npv":290},{"series":"Prosumer_25","year":16,"npv":420},{"series":"Prosumer_25","year":17,"npv":540},{"series":"Prosumer_25","year":18,"npv":670},{"series":"Prosumer_25","year":19,"npv":800},{"series":"Prosumer_25","year":20,"npv":920},{"series":"Prosumer_25","year":21,"npv":1050},{"series":"Prosumer_25","year":22,"npv":1180},{"series":"Prosumer_25","year":23,"npv":1300},{"series":"Prosumer_25","year":24,"npv":1430},{"series":"Prosumer_25","year":25,"npv":1560}
    ]
  },
  "layer": [
    {
      "mark": {"type": "rule", "color": "#000000", "strokeWidth": 2},
      "encoding": {"y": {"datum": 0, "type": "quantitative"}}
    },
    {
      "mark": {"type": "line", "strokeWidth": 5, "strokeCap": "round", "strokeJoin": "round"},
      "encoding": {
        "x": {
          "field": "year", "type": "quantitative",
          "scale": {"domain": [-0.5, 25.5], "nice": false, "zero": false},
          "axis": {
            "values": [0,1,2,3,4,5,6,7,8,9,10,11,12,13,14,15,16,17,18,19,20,21,22,23,24,25],
            "format": "d", "grid": false, "domain": false,
            "labelPadding": 44, "labelBaseline": "alphabetic", "labelFlush": false, "labelOverlap": false,
            "title": "Plānošanas periods, gadi",
            "titleAlign": "right", "titleBaseline": "alphabetic", "titleX": 908, "titleY": -27
          }
        },
        "y": {
          "field": "npv", "type": "quantitative",
          "scale": {"domain": [-10000, 30000], "nice": false, "zero": false},
          "axis": {
            "values": [-10000, 0, 10000, 20000, 30000],
            "format": ",d", "grid": true, "gridColor": "#D9D9D9", "gridWidth": 1.5,
            "domain": true, "domainColor": "#595959", "domainWidth": 1,
            "labelPadding": 30, "labelBaseline": "middle",
            "title": "Naudas plūsma NPV, €",
            "titleAngle": 270, "titleAlign": "center", "titleBaseline": "alphabetic",
            "titleX": -126.5, "titleY": 186, "titleFontSize": 27.5
          }
        },
        "color": {
          "field": "series", "type": "nominal",
          "scale": {
            "domain": ["Prosumer_1","Prosumer_2","Prosumer_3","Prosumer_4","Prosumer_5","Prosumer_6","Prosumer_7","Prosumer_8","Prosumer_9","Prosumer_10","Prosumer_11","Prosumer_12","Prosumer_13","Prosumer_14","Prosumer_15","Prosumer_16","Prosumer_17","Prosumer_18","Prosumer_19","Prosumer_20","Prosumer_21","Prosumer_22","Prosumer_23","Prosumer_24","Prosumer_25"],
            "range": ["#5B9BD5","#ED7D31","#A5A5A5","#FFC000","#4472C4","#70AD47","#255E91","#9E480E","#636363","#997300","#264478","#43682B","#7CAFDD","#F1975A","#B7B7B7","#FFCD33","#698ED0","#8CC168","#7030A0","#D26012","#848484","#CC9A00","#345AA0","#5B8F3C","#000000"]
          },
          "legend": {
            "title": null, "orient": "none", "legendX": -137.6, "legendY": 465, "columns": 5,
            "symbolType": "M-6.7,0H6.7",
            "encode": {"symbols": {"update": {"strokeCap": {"value": "round"}}}}
          }
        },
        "strokeDash": {
          "field": "series", "type": "nominal",
          "scale": {
            "domain": ["Prosumer_1","Prosumer_2","Prosumer_3","Prosumer_4","Prosumer_5","Prosumer_6","Prosumer_7","Prosumer_8","Prosumer_9","Prosumer_10","Prosumer_11","Prosumer_12","Prosumer_13","Prosumer_14","Prosumer_15","Prosumer_16","Prosumer_17","Prosumer_18","Prosumer_19","Prosumer_20","Prosumer_21","Prosumer_22","Prosumer_23","Prosumer_24","Prosumer_25"],
            "range": [[1,0],[18,25],[1,0],[1,0],[1,0],[1,0],[1,0],[1,0],[1,0],[1,0],[1,0],[1,0],[1,0],[1,0],[1,0],[1,0],[1,0],[1,0],[0.1,12],[1,0],[1,0],[1,0],[1,0],[1,0],[18,24.3,0.1,24.3]]
          },
          "legend": {
            "title": null, "orient": "none", "legendX": -137.6, "legendY": 465, "columns": 5,
            "symbolType": "M-6.7,0H6.7"
          }
        }
      }
    },
    {
      "transform": [
        {"filter": {"field": "series", "oneOf": ["Prosumer_1","Prosumer_4","Prosumer_6","Prosumer_13","Prosumer_18","Prosumer_22","Prosumer_23","Prosumer_24"]}}
      ],
      "mark": {"type": "point", "filled": true, "opacity": 1, "size": 130, "strokeWidth": 0},
      "encoding": {
        "x": {
          "field": "year", "type": "quantitative",
          "scale": {"domain": [-0.5, 25.5], "nice": false, "zero": false},
          "axis": {
            "values": [0,1,2,3,4,5,6,7,8,9,10,11,12,13,14,15,16,17,18,19,20,21,22,23,24,25],
            "format": "d", "grid": false, "domain": false,
            "labelPadding": 44, "labelBaseline": "alphabetic", "labelFlush": false, "labelOverlap": false,
            "title": "Plānošanas periods, gadi",
            "titleAlign": "right", "titleBaseline": "alphabetic", "titleX": 908, "titleY": -27
          }
        },
        "y": {
          "field": "npv", "type": "quantitative",
          "scale": {"domain": [-10000, 30000], "nice": false, "zero": false},
          "axis": {
            "values": [-10000, 0, 10000, 20000, 30000],
            "format": ",d", "grid": true, "gridColor": "#D9D9D9", "gridWidth": 1.5,
            "domain": true, "domainColor": "#595959", "domainWidth": 1,
            "labelPadding": 30, "labelBaseline": "middle",
            "title": "Naudas plūsma NPV, €",
            "titleAngle": 270, "titleAlign": "center", "titleBaseline": "alphabetic",
            "titleX": -126.5, "titleY": 186, "titleFontSize": 27.5
          }
        },
        "shape": {
          "field": "series", "type": "nominal",
          "scale": {
            "domain": ["Prosumer_1","Prosumer_2","Prosumer_3","Prosumer_4","Prosumer_5","Prosumer_6","Prosumer_7","Prosumer_8","Prosumer_9","Prosumer_10","Prosumer_11","Prosumer_12","Prosumer_13","Prosumer_14","Prosumer_15","Prosumer_16","Prosumer_17","Prosumer_18","Prosumer_19","Prosumer_20","Prosumer_21","Prosumer_22","Prosumer_23","Prosumer_24","Prosumer_25"],
            "range": [
              "M0,-1.25L1.35,1.05L-1.35,1.05Z",
              "M-0.05,0H0.05",
              "M-0.05,0H0.05",
              "M-0.16,-1.25H0.16V1.25H-0.16ZM-0.887,-1.113L1.113,0.887L0.887,1.113L-1.113,-0.887ZM0.887,-1.113L1.113,-0.887L-0.887,1.113L-1.113,0.887Z",
              "M-0.05,0H0.05",
              "M-1.2,-1.2H1.2V1.2H-1.2Z",
              "M-0.05,0H0.05",
              "M-0.05,0H0.05",
              "M-0.05,0H0.05",
              "M-0.05,0H0.05",
              "M-0.05,0H0.05",
              "M-0.05,0H0.05",
              "M-1.2,-1.2H1.2V1.2H-1.2Z",
              "M-0.05,0H0.05",
              "M-0.05,0H0.05",
              "M-0.05,0H0.05",
              "M-0.05,0H0.05",
              "M1.3,0C1.3,0.718,0.718,1.3,0,1.3C-0.718,1.3,-1.3,0.718,-1.3,0C-1.3,-0.718,-0.718,-1.3,0,-1.3C0.718,-1.3,1.3,-0.718,1.3,0Z",
              "M-0.05,0H0.05",
              "M-0.05,0H0.05",
              "M-0.05,0H0.05",
              "M1.3,0C1.3,0.718,0.718,1.3,0,1.3C-0.718,1.3,-1.3,0.718,-1.3,0C-1.3,-0.718,-0.718,-1.3,0,-1.3C0.718,-1.3,1.3,-0.718,1.3,0Z",
              "M0,-1.15L1.35,0L0,1.15L-1.35,0Z",
              "M0,-1.25L1.35,1.05L-1.35,1.05Z",
              "M-0.05,0H0.05"
            ]
          },
          "legend": {
            "title": null, "orient": "none", "legendX": -137.6, "legendY": 465, "columns": 5,
            "rowPadding": -9.25, "columnPadding": 138, "labelExpr": "''", "symbolStrokeColor": "transparent"
          }
        },
        "fill": {
          "field": "series", "type": "nominal",
          "scale": {
            "domain": ["Prosumer_1","Prosumer_2","Prosumer_3","Prosumer_4","Prosumer_5","Prosumer_6","Prosumer_7","Prosumer_8","Prosumer_9","Prosumer_10","Prosumer_11","Prosumer_12","Prosumer_13","Prosumer_14","Prosumer_15","Prosumer_16","Prosumer_17","Prosumer_18","Prosumer_19","Prosumer_20","Prosumer_21","Prosumer_22","Prosumer_23","Prosumer_24","Prosumer_25"],
            "range": ["#41719C","transparent","transparent","#BF9000","transparent","#456F2C","transparent","transparent","transparent","transparent","transparent","transparent","#4677A5","transparent","transparent","transparent","transparent","#548235","transparent","transparent","transparent","#CC9A06","#3259A0","#578A39","transparent"]
          },
          "legend": {
            "title": null, "orient": "none", "legendX": -137.6, "legendY": 465, "columns": 5,
            "rowPadding": -9.25, "columnPadding": 138, "labelExpr": "''", "symbolStrokeColor": "transparent"
          }
        }
      }
    }
  ],
  "resolve": {"legend": {"shape": "independent", "fill": "independent"}}
}
